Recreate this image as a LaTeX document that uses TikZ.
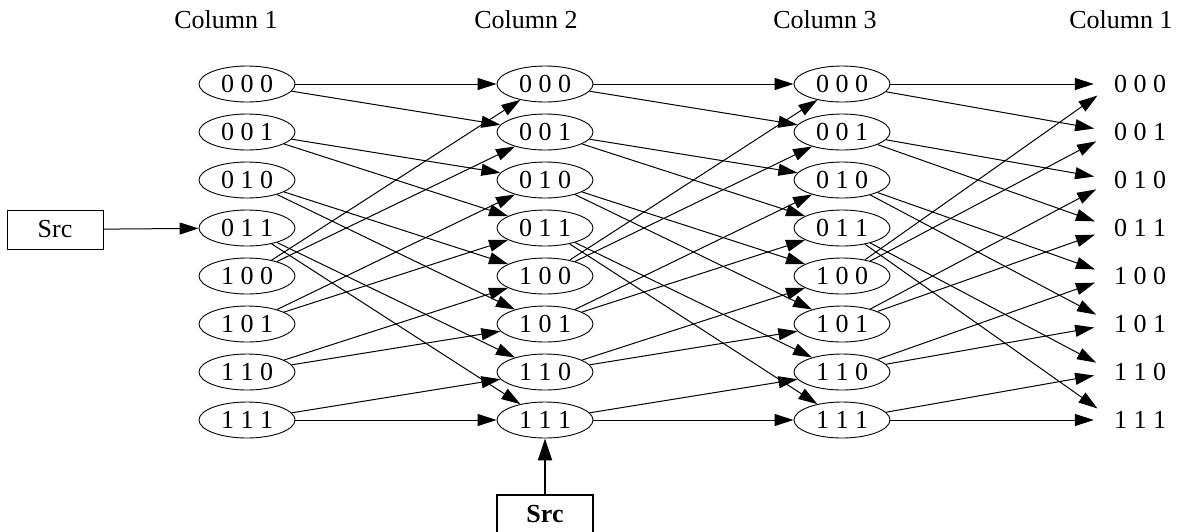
\documentclass[tikz,border=0pt]{standalone}
\usepackage{fontspec}
\setmainfont{Liberation Serif}
\usetikzlibrary{shapes.geometric, arrows.meta, positioning}

\begin{document}
\begin{tikzpicture}[
  x=1pt, y=-1pt,
  every node/.style={font=\fontsize{26}{30}\selectfont},
  state/.style={ellipse, draw, line width=0.9pt, minimum width=96pt, minimum height=36pt, inner sep=0pt},
  outlabel/.style={inner sep=0pt},
  srcbox/.style={rectangle, draw, line width=0.9pt, minimum width=96pt, minimum height=39pt},
  arrow/.style={-{Triangle[length=19pt, width=12pt]}, line width=1pt}
]
\useasboundingbox (0,0) rectangle (1178,531);

% Headers
\node (head1) at (226,20) {Column 1};
\node (head2) at (526,20) {Column 2};
\node (head3) at (825,20) {Column 3};
\node (head4) at (1121,20) {Column 1};

% Nodes
\foreach \b [count=\i from 0] in {{0 0 0},{0 0 1},{0 1 0},{0 1 1},{1 0 0},{1 0 1},{1 1 0},{1 1 1}} {
  \node (a\i) [state] at (247,84+48*\i) {\b};
  \node (b\i) [state] at (545,84+48*\i) {\b};
  \node (c\i) [state] at (842,84+48*\i) {\b};
  \node (f\i) [outlabel] at (1140,84+48*\i) {\b};
}
\node (src) [srcbox] at (55,229.5) {Src};
\node (src2) [srcbox, line width=2pt, font=\fontsize{26}{30}\selectfont\bfseries] at (545,514) {Src};

% Arrows
\foreach \i in {0,...,7} {
  \pgfmathtruncatemacro\lo{mod(2*\i,8)}
  \pgfmathtruncatemacro\hi{\lo+1}
  \draw [arrow] (a\i) -- (b\lo);
  \draw [arrow] (a\i) -- (b\hi);
  \draw [arrow] (b\i) -- (c\lo);
  \draw [arrow] (b\i) -- (c\hi);
  \draw [arrow, shorten >=20pt] (c\i) -- (f\lo.west);
  \draw [arrow, shorten >=20pt] (c\i) -- (f\hi.west);
}
\draw [arrow] (src) -- (a3);
\draw [arrow, line width=2pt, -{Triangle[length=22pt, width=14pt]}] (src2) -- (b7);

\end{tikzpicture}
\end{document}
